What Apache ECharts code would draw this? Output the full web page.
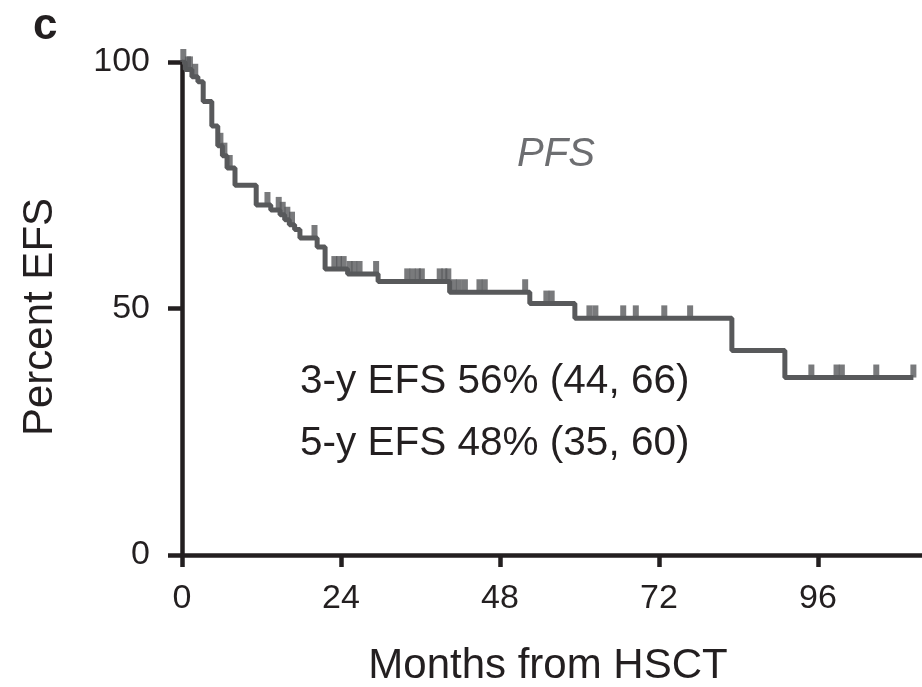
<!DOCTYPE html>
<html>
<head>
<meta charset="utf-8">
<script src="https://cdn.jsdelivr.net/npm/echarts@6/dist/echarts.min.js"></script>
<style>
html,body{margin:0;padding:0;background:#fff;}
#chart{width:922px;height:687px;}
</style>
</head>
<body>
<div id="chart"></div>
<script>
// Kaplan-Meier step points (month, percent EFS after the event)
const months = [0, 0.5, 1.5, 2.4, 3.2, 4.5, 5.4, 6.1, 6.8, 8.0, 11.2, 13.4, 14.8, 15.5, 16.2, 17.0, 17.8, 20.4, 21.6, 25.0, 29.6, 40.4, 52.5, 59.3, 83.0, 91.0, 110.4];
const efs    = [100, 98.5, 97, 96, 92, 87, 83, 81, 78.5, 75, 71, 70, 69, 68, 67, 66, 64.3, 62.5, 58, 57, 55.5, 53.3, 51, 48, 41.5, 36, 36];
// Censoring times (months)
const censored = [0.2, 0.9, 1.2, 2.0, 5.8, 6.4, 7.2, 12.9, 14.6, 15.2, 15.9, 16.6, 20.0, 23.0, 23.7, 24.4, 25.3, 26.0, 26.8, 29.3, 34.0, 34.8, 35.6, 36.2, 38.9, 39.6, 40.2, 41.0, 41.8, 42.7, 44.9, 45.7, 51.8, 55.0, 55.8, 61.5, 62.4, 66.6, 68.5, 72.8, 76.7, 95.0, 98.8, 99.6, 104.8, 110.4];
// Axis ticks
const xTicks = [0, 24, 48, 72, 96];
const yTicks = [0, 50, 100];

function levelAt(t) {
  let v = efs[0];
  for (let i = 0; i < months.length; i++) {
    if (months[i] <= t) v = efs[i];
  }
  return v;
}

const curve = months.map((m, i) => [m, efs[i]]);
const marks = censored.map(t => [t, levelAt(t)]);

const INK = '#231f20';
const GRAY = '#58595b';
const FONT = '"Liberation Sans", Arial, Helvetica, sans-serif';

const chart = echarts.init(document.getElementById('chart'), null, {renderer: 'canvas'});
chart.setOption({
  animation: false,
  backgroundColor: '#fff',
  grid: {left: 182, right: 0, top: 62, bottom: 132, containLabel: false},
  xAxis: {
    type: 'value', min: 0, max: 111.7,
    axisLine: {show: true, lineStyle: {color: INK, width: 4.5}},
    axisTick: {show: true, length: 12, lineStyle: {color: INK, width: 4.5}, customValues: xTicks},
    axisLabel: {color: INK, fontSize: 34, fontFamily: FONT, margin: 27, customValues: xTicks},
    splitLine: {show: false}
  },
  yAxis: {
    type: 'value', min: 0, max: 100,
    axisLine: {show: true, lineStyle: {color: INK, width: 4.5}},
    axisTick: {show: true, length: 14, lineStyle: {color: INK, width: 4.5}, customValues: yTicks},
    axisLabel: {color: INK, fontSize: 34, fontFamily: FONT, margin: 32, customValues: yTicks},
    splitLine: {show: false}
  },
  series: [
    {
      type: 'line', step: 'end', data: curve, symbol: 'none',
      lineStyle: {color: GRAY, width: 5}, z: 3
    },
    {
      type: 'scatter', data: marks, symbol: 'rect', symbolSize: [6, 13], symbolOffset: [0, -6.5],
      itemStyle: {color: GRAY}, z: 4
    }
  ],
  graphic: [
    {type: 'text', x: 33, y: 27,
      style: {text: 'c', font: 'bold 44px ' + FONT, fill: INK, align: 'left', verticalAlign: 'middle'}},
    {type: 'text', x: 40, y: 317, rotation: Math.PI / 2,
      style: {text: 'Percent EFS', font: '42px ' + FONT, fill: INK, align: 'center', verticalAlign: 'middle'}},
    {type: 'text', x: 548, y: 666,
      style: {text: 'Months from HSCT', font: '42px ' + FONT, fill: INK, align: 'center', verticalAlign: 'middle'}},
    {type: 'text', x: 556, y: 155,
      style: {text: 'PFS', font: 'italic 40px ' + FONT, fill: '#6d6e71', align: 'center', verticalAlign: 'middle'}},
    {type: 'text', x: 300, y: 382,
      style: {text: '3-y EFS 56% (44, 66)', font: '40.5px ' + FONT, fill: INK, align: 'left', verticalAlign: 'middle'}},
    {type: 'text', x: 300, y: 444,
      style: {text: '5-y EFS 48% (35, 60)', font: '40.5px ' + FONT, fill: INK, align: 'left', verticalAlign: 'middle'}}
  ]
});
</script>
</body>
</html>
